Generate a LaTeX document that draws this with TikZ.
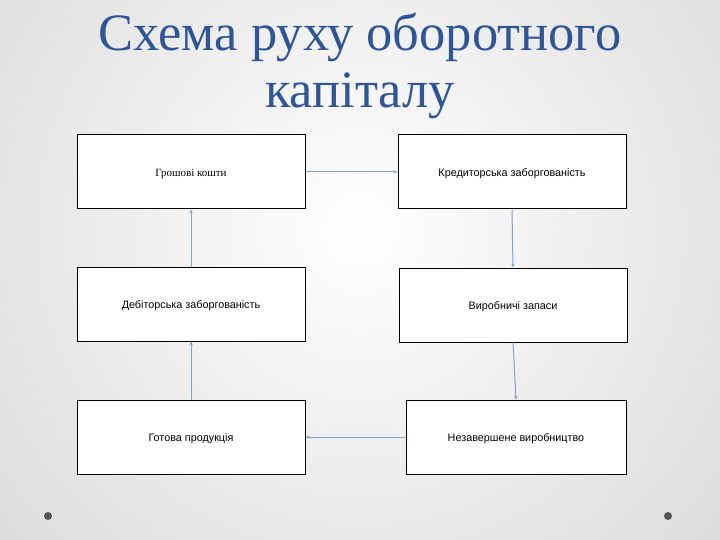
\documentclass[tikz,border=0pt]{standalone}
\usepackage{fontspec}
\setmainfont{Liberation Serif}
\newfontfamily\boxsans{Liberation Sans}
\usetikzlibrary{arrows.meta}
\definecolor{titleblue}{RGB}{47,85,151}
\definecolor{arrowblue}{RGB}{125,165,205}
\definecolor{dotgray}{RGB}{85,85,85}
\tikzset{
  box/.style={draw=black, line width=1pt, fill=white, minimum width=228pt, minimum height=74pt, inner sep=0pt, text height=9pt, text depth=0pt, font=\boxsans\fontsize{10.8}{12}\selectfont},
  flow/.style={draw=arrowblue, line width=1pt, -{Stealth[length=4pt,width=3.5pt]}},
  dot/.style={circle, fill=dotgray, minimum size=8pt, inner sep=0pt}
}
\begin{document}
\begin{tikzpicture}[x=1pt,y=-1pt]
\useasboundingbox (0,0) rectangle (720,540);
\shade[inner color=white, outer color={rgb,255:red,214;green,214;blue,214}] (360,230) circle (560);
\clip (0,0) rectangle (720,540);
\node[titleblue, font=\fontsize{52.5}{52.5}\selectfont, align=center] (title) at (360,66) {Схема руху оборотного\\[4pt]капіталу};
\node[box, font=\fontsize{11}{13}\selectfont] (b1) at (191,172) {Грошові кошти};
\node[box] (b2) at (512,172) {Кредиторська заборгованість};
\node[box] (b3) at (191,304) {Дебіторська заборгованість};
\node[box] (b4) at (513,305) {Виробничі запаси};
\node[box] (b5) at (191,437) {Готова продукція};
\node[box, minimum width=220pt] (b6) at (516,437) {Незавершене виробництво};
\draw[flow] (b1.east) -- (b2.west);
\draw[flow] (b2.south) -- (b4.north);
\draw[flow] (b4.south) -- (b6.north);
\draw[flow] (b6.west) -- (b5.east);
\draw[flow] (b5.north) -- (b3.south);
\draw[flow] (b3.north) -- (b1.south);
\node[dot] (d1) at (48,516) {};
\node[dot] (d2) at (668,516) {};
\end{tikzpicture}
\end{document}
